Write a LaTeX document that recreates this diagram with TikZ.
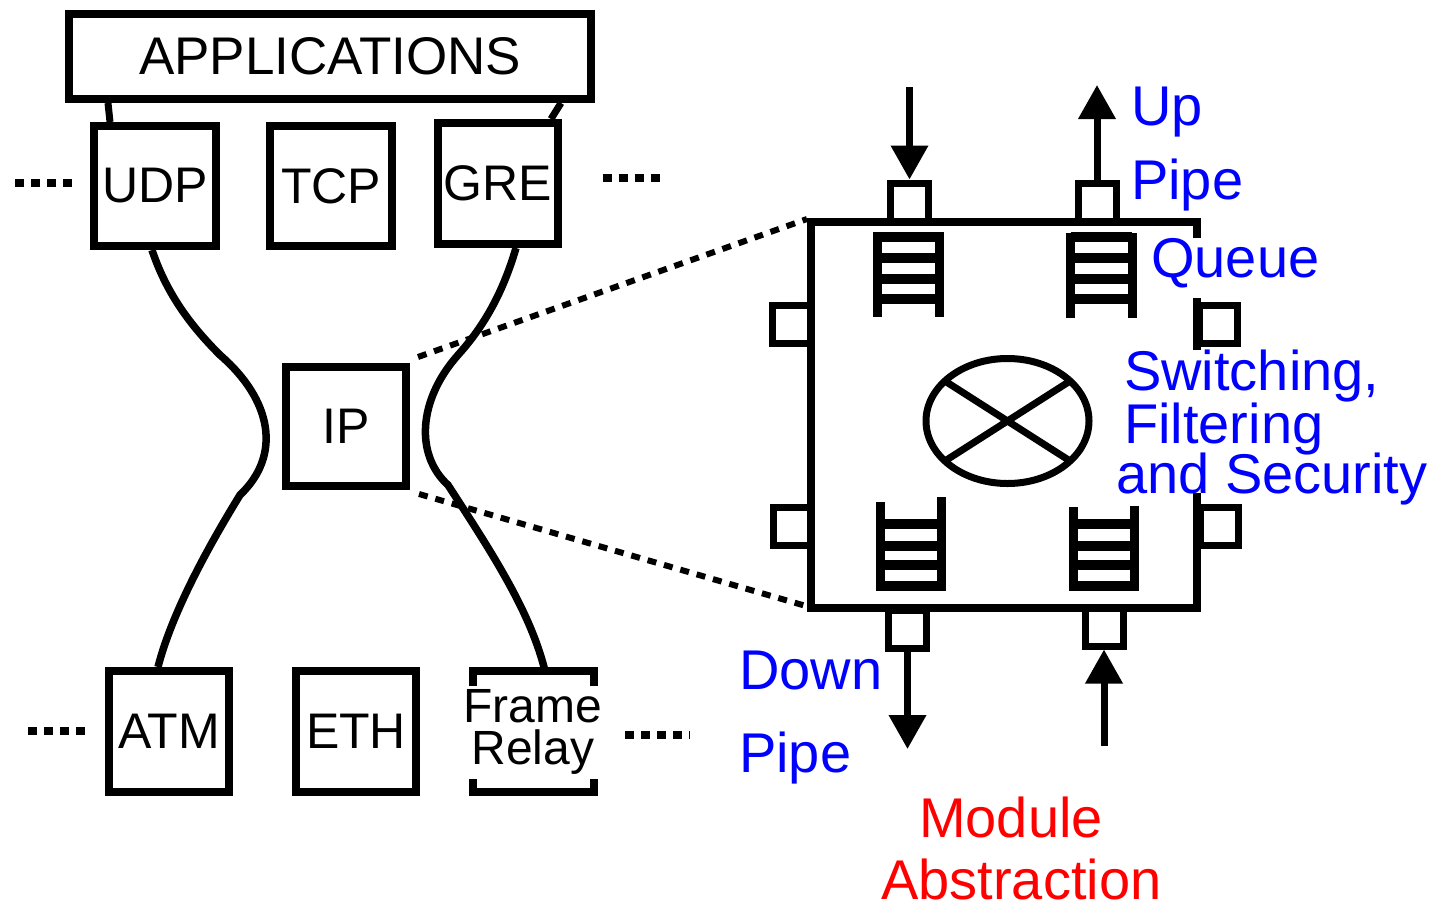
\documentclass[tikz,border=0pt]{standalone}
\usepackage{fontspec}
\setmainfont{Liberation Sans}
\usetikzlibrary{arrows.meta,calc,shapes.geometric}
\begin{document}
\begin{tikzpicture}[x=1pt,y=-1pt,
  box/.style={draw, line width=8pt, inner sep=0pt, minimum width=121pt, minimum height=121pt, font=\fontsize{50}{50}\selectfont},
  port/.style={draw, line width=7pt, inner sep=0pt, minimum size=38pt},
  lbl/.style={anchor=base west, inner sep=0pt, font=\fontsize{56}{56}\selectfont},
  dots/.style={line width=8pt, dash pattern=on 9pt off 7pt},
  dotline/.style={line width=6pt, dash pattern=on 9pt off 8pt},
  curve/.style={line width=7.5pt},
  arr/.style={line width=7pt, -{Triangle[width=36pt,length=34pt]}},
  qside/.style={line width=9pt},
  qbar/.style={line width=10pt}
]
\useasboundingbox (0,0) rectangle (1438,906);

% ---------- protocol stack ----------
\node (apps) [box, minimum width=522pt, minimum height=85pt, font=\fontsize{53}{53}\selectfont] at (330,56.5) {APPLICATIONS};
\node (udp) [box, minimum width=122pt, minimum height=120pt] at (155,186) {UDP};
\node (tcp) [box, minimum width=122pt, minimum height=120pt] at (331,186) {TCP};
\node (gre) [box, minimum width=120pt, minimum height=121pt] at (498,183.5) {GRE};
\node (ip)  [box, minimum width=120pt, minimum height=119pt] at (346,426.5) {IP};
\node (atm) [box, minimum width=120pt, minimum height=121pt] at (169,731.5) {ATM};
\node (eth) [box, minimum width=120pt, minimum height=121pt] at (356,731.5) {ETH};
\node (fr)  [draw=none, inner sep=0pt, align=center,
             font=\fontsize{48}{42}\selectfont] at (533,731.5) {Frame\\Relay};
% bracket outline of Frame Relay (fixed size 121 x 121)
\coordinate (frNW) at ($(fr.center)+(-60.5,-60.5)$);
\coordinate (frNE) at ($(fr.center)+(60.5,-60.5)$);
\coordinate (frSW) at ($(fr.center)+(-60.5,60.5)$);
\coordinate (frSE) at ($(fr.center)+(60.5,60.5)$);
\coordinate (frN) at ($(fr.center)+(12,-60.5)$);
\draw[line width=8pt] ($(frNW)+(0,15)$) -- (frNW) -- (frNE) -- ($(frNE)+(0,15)$);
\draw[line width=8pt] ($(frSW)+(0,-13)$) -- (frSW) -- (frSE) -- ($(frSE)+(0,-13)$);

% apps links
\draw[line width=7pt] ($(apps.south west)+(43,0)$) -- ($(udp.north west)+(20,0)$);
\draw[line width=7pt] ($(apps.south east)+(-34,0)$) -- ($(gre.north west)+(117,0)$);

% hourglass curves
\draw[curve] ($(udp.south)+(-3,0)$) .. controls (167,295) and (192,327) .. (220,355)
  .. controls (272,400) and (282,455) .. (240,495)
  .. controls (200,560) and (170,620) .. ($(atm.north)+(-11,0)$);
\draw[curve] ($(gre.south)+(18,0)$) .. controls (503,292) and (485,325) .. (458,355)
  .. controls (418,400) and (415,455) .. (448,485)
  .. controls (490,550) and (530,610) .. (frN);

% ellipsis dots
\coordinate (d1a) at (15,183);  \coordinate (d1b) at (74,183);
\coordinate (d2a) at (603,178); \coordinate (d2b) at (662,178);
\coordinate (d3a) at (28,731);  \coordinate (d3b) at (87,731);
\coordinate (d4a) at (625,735); \coordinate (d4b) at (690,735);
\draw[dots] (d1a) -- (d1b);
\draw[dots] (d2a) -- (d2b);
\draw[dots] (d3a) -- (d3b);
\draw[dots] (d4a) -- (d4b);

% ---------- module abstraction ----------
\coordinate (modNW) at (811,222);
\coordinate (modNE) at (1197,222);
\coordinate (modSW) at (811,608);
\coordinate (modSE) at (1197,608);
\draw[line width=8pt] (1197,238) -- (modNE) -- (modNW) -- (modSW) -- (modSE) -- (1197,493);
\draw[line width=8pt] (1197,298) -- (1197,350);

% zoom lines
\draw[dotline] ($(ip.north east)+(8,-6)$) -- ($(modNW)+(-4,-3)$);
\draw[dotline] ($(ip.south east)+(9,4)$) -- ($(modSW)+(-5,-2)$);

% ports
\node (ptl) [port] at (909.5,202) {};
\node (ptr) [port] at (1097,202) {};
\node (plt) [port] at (791,324.5) {};
\node (plb) [port] at (792,526) {};
\node (prt) [port] at (1218,324) {};
\node (prb) [port] at (1219,526) {};
\node (pbl) [port] at (907.5,629.5) {};
\node (pbr) [port] at (1104,627) {};

% pipe arrows
\coordinate (inTop) at (909.5,87);
\coordinate (outTop) at (1097,85);
\coordinate (outBot) at (907.5,749);
\coordinate (inBot) at (1104,746);
\draw[arr] (inTop) -- (ptl.north);
\draw[arr] (ptr.north) -- (outTop);
\draw[arr] (pbl.south) -- (outBot);
\draw[arr] (inBot) -- (pbr.south);

% queues (top: open at bottom)
\foreach \L/\R/\T/\B in {877.5/939/232/317, 1070.5/1132/233/318}{
  \draw[qside] (\L,\T) -- (\L,\B);
  \draw[qside] (\R,\T) -- (\R,\B);
  \foreach \y in {237,257.5,278.5,298.5}{\draw[qbar] (\L,\y) -- (\R,\y);}
}
% queues (bottom: open at top)
\foreach \L/\R/\Tl/\Tr in {880/941/502/497, 1073/1134/507/506}{
  \draw[qside] (\L,\Tl) -- (\L,591);
  \draw[qside] (\R,\Tr) -- (\R,591);
  \foreach \y in {523.5,545.5,565,585.5}{\draw[qbar] (\L,\y) -- (\R,\y);}
}

% switch
\node (sw) [draw, ellipse, line width=7pt, inner sep=0pt, minimum width=163pt, minimum height=125pt] at (1007.5,421) {};
\draw[line width=7pt] ($(sw.center)+(-62.6,-40)$) -- ($(sw.center)+(62.6,40)$);
\draw[line width=7pt] ($(sw.center)+(62.6,-40)$) -- ($(sw.center)+(-62.6,40)$);

% labels
\node (up)    [lbl, text=blue] at (1131,125) {Up};
\node (pipe1) [lbl, text=blue] at (1131,199) {Pipe};
\node (queue) [lbl, text=blue] at (1151,277) {Queue};
\node (sw1)   [lbl, text=blue] at (1124,390) {Switching,};
\node (sw2)   [lbl, text=blue] at (1124,443) {Filtering};
\node (sw3)   [lbl, text=blue] at (1116,493) {and Security};
\node (down)  [lbl, text=blue] at (739,689) {Down};
\node (pipe2) [lbl, text=blue] at (739,772) {Pipe};
\node (mod1)  [lbl, text=red]  at (919,837) {Module};
\node (mod2)  [lbl, text=red]  at (881,899) {Abstraction};
\end{tikzpicture}
\end{document}
